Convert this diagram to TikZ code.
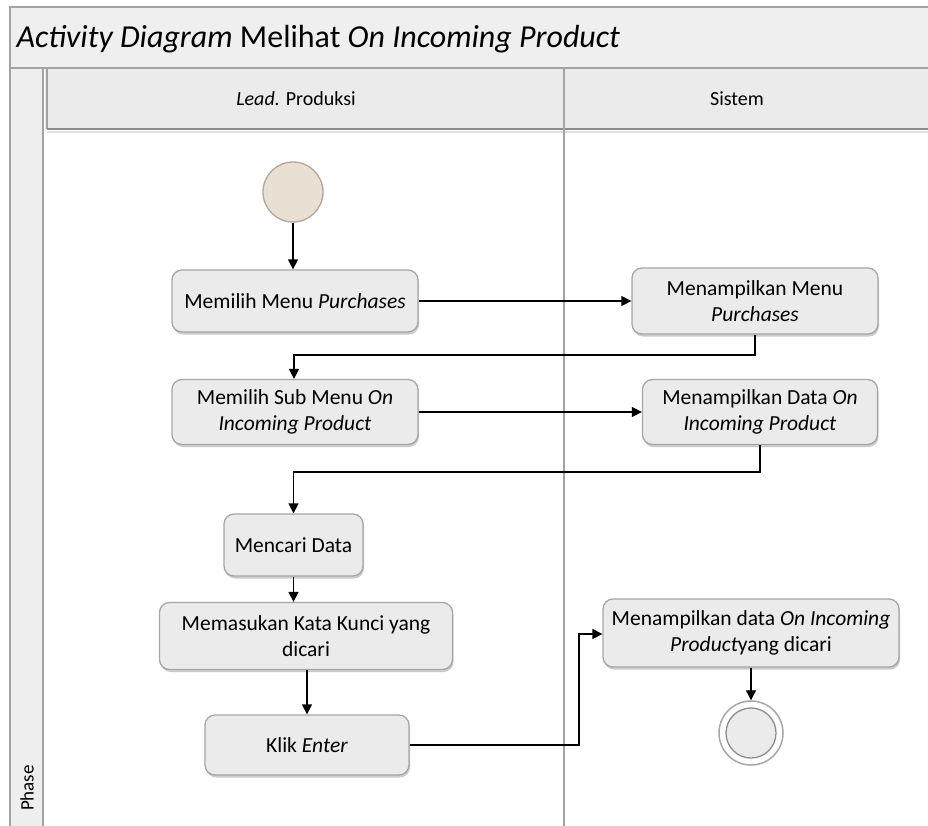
\documentclass[tikz,border=0pt]{standalone}
\usepackage{fontspec}
\setmainfont{Carlito}
\usetikzlibrary{arrows.meta,shadows}
\definecolor{framegray}{HTML}{A3A3A3}
\definecolor{titlefill}{HTML}{EFEFEF}
\definecolor{headfill}{HTML}{EBEBEB}
\definecolor{phasefill}{HTML}{EEEEEE}
\definecolor{boxfill}{HTML}{EBEBEB}
\definecolor{boxborder}{HTML}{A6A6A6}
\definecolor{startfill}{HTML}{EADFD3}
\definecolor{startborder}{HTML}{B3A697}
\begin{document}
\begin{tikzpicture}[x=1pt,y=-1pt,
  act/.style={draw=boxborder, fill=boxfill, rounded corners=10pt, line width=1.3pt,
    align=center, inner sep=0pt, font=\fontsize{21.5}{26}\selectfont,
    drop shadow={shadow xshift=1pt, shadow yshift=-2.5pt, opacity=0.4}},
  flow/.style={-{Triangle[length=10pt,width=10pt]}, line width=1.4pt},
  frameline/.style={draw=framegray, line width=1.2pt}]
\useasboundingbox (0,0) rectangle (928,825);
\fill[white] (0,0) rectangle (928,825);

% pool frame: title band, phase column, lane headers
\fill[titlefill] (10,7) rectangle (940,68);
\fill[phasefill] (10,68) rectangle (43,840);
\fill[headfill] (45,68) rectangle (940,129);
\draw[frameline] (10,840) -- (10,7) -- (940,7);
\draw[frameline] (10,68) -- (940,68);
\draw[frameline] (43,68) -- (43,840);
\draw[frameline] (47,68) -- (47,129);
\draw[draw=black!45, line width=1.8pt] (47,129) -- (940,129);
\draw[draw=black!12, line width=2pt] (47,132) -- (940,132);
\draw[frameline] (564,68) -- (564,840);

\node[anchor=west, font=\fontsize{32}{36}\selectfont] (title) at (13,39)
  {\textit{Activity Diagram} Melihat \textit{On Incoming Product}};
\node[font=\fontsize{20}{24}\selectfont] (lane1) at (296,99) {\textit{Lead.} Produksi};
\node[font=\fontsize{20}{24}\selectfont] (lane2) at (737,99) {Sistem};
\node[rotate=90, font=\fontsize{19}{22}\selectfont] (phase) at (27,788) {Phase};

% actions
\node[draw=startborder, fill=startfill, circle, minimum size=60pt, line width=1.3pt] (start) at (293,192) {};
\node[act, minimum width=246pt, minimum height=62pt] (a1) at (295,301) {Memilih Menu \textit{Purchases}};
\node[act, minimum width=246pt, minimum height=66pt] (s1) at (755,301) {Menampilkan Menu\\\textit{Purchases}};
\node[act, minimum width=246pt, minimum height=65pt] (a2) at (295,412) {Memilih Sub Menu \textit{On}\\\textit{Incoming Product}};
\node[act, minimum width=235pt, minimum height=65pt] (s2) at (760,412) {Menampilkan Data \textit{On}\\\textit{Incoming Product}};
\node[act, minimum width=139pt, minimum height=62pt] (a3) at (293.5,545) {Mencari Data};
\node[act, minimum width=293pt, minimum height=67pt] (a4) at (306,636) {Memasukan Kata Kunci yang\\dicari};
\node[act, minimum width=204pt, minimum height=60pt] (a5) at (307,745) {Klik \textit{Enter}};
\node[act, minimum width=296pt, minimum height=68pt] (s3) at (751,633) {Menampilkan data \textit{On Incoming}\\\textit{Product}yang dicari};
\node[circle, draw=black!35, line width=1.5pt, fill=white, minimum size=64pt] (end) at (751,733) {};
\node[circle, draw=black!45, line width=1.3pt, fill=boxfill, minimum size=50pt] at (end) {};

% control flow
\coordinate (j1) at (755,355);
\coordinate (j2) at (294,355);
\coordinate (j3) at (760,472);
\coordinate (j4) at (293.5,472);
\coordinate (j5) at (579,745);
\coordinate (j6) at (579,634);
\draw[flow] (start) -- (start |- a1.north);
\draw[flow] (a1) -- (s1);
\draw[flow] (s1.south) -- (j1) -- (j2) -- (j2 |- a2.north);
\draw[flow] (a2) -- (s2);
\draw[flow] (s2.south) -- (j3) -- (j4) -- (a3.north);
\draw[flow] (a3) -- (a3 |- a4.north);
\draw[flow] (a5 |- a4.south) -- (a5.north);
\draw[flow] (a5.east) -- (j5) -- (j6) -- (j6 -| s3.west);
\draw[flow] (s3) -- (end);
\end{tikzpicture}
\end{document}
